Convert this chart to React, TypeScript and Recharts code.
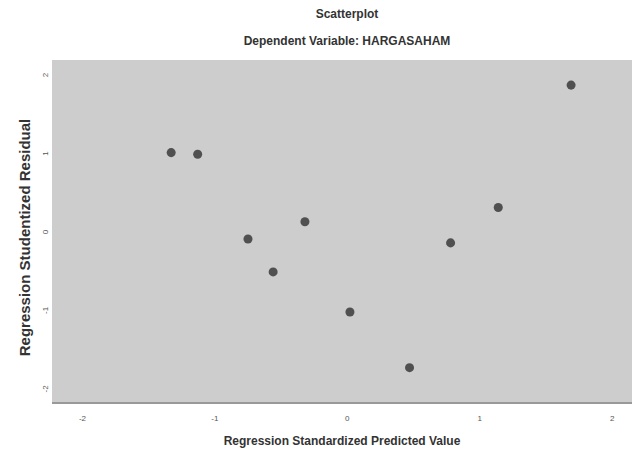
import { ScatterChart, Scatter, XAxis, YAxis, ZAxis, CartesianGrid, Label } from 'recharts';

const predicted = [-1.33, -1.13, -0.75, -0.56, -0.32, 0.02, 0.47, 0.78, 1.14, 1.69];
const residual = [1.01, 0.99, -0.09, -0.51, 0.13, -1.02, -1.73, -0.14, 0.31, 1.87];
const ticks = [-2, -1, 0, 1, 2];

const points = predicted.map((x, i) => ({ x, y: residual[i] }));

const font = '"Liberation Sans", Arial, sans-serif';

const YTick = (props: any) => {
  const { x, y, payload } = props;
  return (
    <text x={x + 4} y={y} transform={`rotate(-90 ${x + 4} ${y})`} textAnchor="middle"
      fontSize={8} fill="#555" fontFamily={font}>
      {payload.value}
    </text>
  );
};

const XTick = (props: any) => {
  const { x, y, payload } = props;
  return (
    <text x={x} y={y + 10} textAnchor="middle" fontSize={8} fill="#555" fontFamily={font}>
      {payload.value}
    </text>
  );
};

const YTitle = (props: any) => {
  const { viewBox } = props;
  const cx = viewBox.x + 24;
  const cy = viewBox.y + viewBox.height / 2 + 6;
  return (
    <text x={cx} y={cy} transform={`rotate(-90 ${cx} ${cy})`} textAnchor="middle" dominantBaseline="central"
      fontFamily={font} fontSize={15} fontWeight="bold" fill="#333">
      Regression Studentized Residual
    </text>
  );
};

const App = () => {
  return (
    <div style={{ position: 'absolute', left: 0, top: 0, width: 632, height: 450, background: '#fff' }}>
      <div style={{ position: 'absolute', top: 7, width: 632, paddingLeft: 62, boxSizing: 'border-box', textAlign: 'center', fontFamily: font, fontSize: 12, fontWeight: 'bold', color: '#333' }}>
        Scatterplot
      </div>
      <div style={{ position: 'absolute', top: 34, width: 632, paddingLeft: 62, boxSizing: 'border-box', textAlign: 'center', fontFamily: font, fontSize: 12, fontWeight: 'bold', color: '#333' }}>
        Dependent Variable: HARGASAHAM
      </div>
      <ScatterChart width={632} height={450} margin={{ top: 60, right: 0, bottom: 0, left: 0 }}>
        <CartesianGrid horizontal={false} vertical={false} fill="#cdcdcd" />
        <XAxis type="number" dataKey="x" domain={[-2.23, 2.15]} ticks={ticks} allowDataOverflow
          height={47} tickLine={false} axisLine={{ stroke: '#999', strokeWidth: 2 }} tick={<XTick />}>
          <Label value="Regression Standardized Predicted Value" position="insideBottom" offset={5}
            style={{ fontFamily: font, fontSize: 12, fontWeight: 'bold', fill: '#333' }} />
        </XAxis>
        <YAxis type="number" dataKey="y" domain={[-2.18, 2.19]} ticks={ticks} allowDataOverflow
          width={52} tickLine={false} axisLine={false} tick={<YTick />}>
          <Label content={<YTitle />} />
        </YAxis>
        <ZAxis range={[60, 60]} />
        <Scatter data={points} fill="#505050" isAnimationActive={false} />
      </ScatterChart>
    </div>
  );
};

export default App;
